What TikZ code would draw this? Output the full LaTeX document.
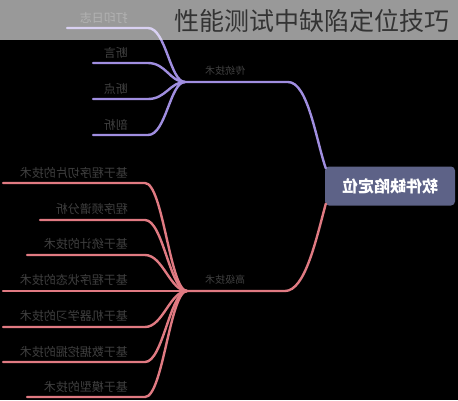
\documentclass[tikz,border=0pt]{standalone}
\usepackage{fontspec}
\usepackage{graphicx}
\newfontfamily\cjk{Noto Sans CJK SC}
\definecolor{purpline}{HTML}{A08EE0}
\definecolor{pinkline}{HTML}{E07A82}
\definecolor{rootfill}{HTML}{5D6287}
\definecolor{labeltext}{HTML}{404040}
\definecolor{titletext}{HTML}{333333}
\newcommand{\mirr}[1]{\scalebox{-1}[1]{#1}}
\tikzset{
  purp/.style={draw=purpline,line width=2.4pt,line cap=round},
  pinkl/.style={draw=pinkline,line width=2.4pt,line cap=round},
  leaflabel/.style={anchor=south east,inner sep=0pt,text=labeltext,font=\cjk\fontsize{12}{12}\selectfont},
  brlabel/.style={anchor=south,inner sep=0pt,text=labeltext,font=\cjk\fontsize{10}{10}\selectfont},
  rootbox/.style={fill=rootfill,rounded corners=4pt,minimum width=130pt,minimum height=39pt,inner sep=0pt,text=white,font=\cjk\bfseries\fontsize{16}{16}\selectfont},
}
\begin{document}
\begin{tikzpicture}[x=1pt,y=-1pt]
\useasboundingbox (0,0) rectangle (458,400);
\fill[black] (0,0) rectangle (458,400);
% root
\node[rootbox] (root) at (390,186) {\mirr{软件缺陷定位}};
% purple branch
\coordinate (pj) at (185,82);
\coordinate (pr) at (288,82);
\draw[purp] (pj) -- (pr) .. controls (308,82) and (316,140) .. ([shift={(1,2)}]root.north west);
\node[brlabel] (plab) at (225,76) {\mirr{传统技术}};
\coordinate (pl1) at (67,28);
\coordinate (pl2) at (93,63);
\coordinate (pl3) at (93,99);
\coordinate (pl4) at (93,135);
\foreach \n/\y in {pl1/28,pl2/63,pl3/99,pl4/135}{
  \draw[purp] (\n) -- (148,\y) .. controls (166,\y) and (170,82) .. (pj);
}
\node[leaflabel] (t1) at (128,24) {\mirr{打印日志}};
\node[leaflabel] (t2) at (128,59) {\mirr{断言}};
\node[leaflabel] (t3) at (128,95) {\mirr{断点}};
\node[leaflabel] (t4) at (128,131) {\mirr{剖析}};
% pink branch
\coordinate (kj) at (187,291);
\coordinate (kr) at (285,291);
\draw[pinkl] (kj) -- (kr) .. controls (305,291) and (316,240) .. ([shift={(1,-2)}]root.south west);
\node[brlabel] (klab) at (225,285) {\mirr{高级技术}};
\coordinate (k1) at (3,183);
\coordinate (k2) at (40,220);
\coordinate (k3) at (27,255);
\coordinate (k4) at (3,291);
\coordinate (k5) at (3,327);
\coordinate (k6) at (3,362);
\coordinate (k7) at (27,397);
\foreach \n/\y in {k1/183,k2/220,k3/255,k5/327,k6/362,k7/397}{
  \draw[pinkl] (\n) -- (145,\y) .. controls (163,\y) and (170,291) .. (kj);
}
\draw[pinkl] (k4) -- (kj);
\node[leaflabel] (s1) at (128,179) {\mirr{基于程序切片的技术}};
\node[leaflabel] (s2) at (128,215) {\mirr{程序频谱分析}};
\node[leaflabel] (s3) at (128,250) {\mirr{基于统计的技术}};
\node[leaflabel] (s4) at (128,286) {\mirr{基于程序状态的技术}};
\node[leaflabel] (s5) at (128,322) {\mirr{基于机器学习的技术}};
\node[leaflabel] (s6) at (128,358) {\mirr{基于数据挖掘的技术}};
\node[leaflabel] (s7) at (128,393) {\mirr{基于模型的技术}};
% banner
\fill[white,opacity=0.6] (0,0) rectangle (458,40);
\node[anchor=west,inner sep=0pt,text=titletext,font=\cjk\fontsize{25}{25}\selectfont] (title) at (174,21) {性能测试中缺陷定位技巧};
\end{tikzpicture}
\end{document}
